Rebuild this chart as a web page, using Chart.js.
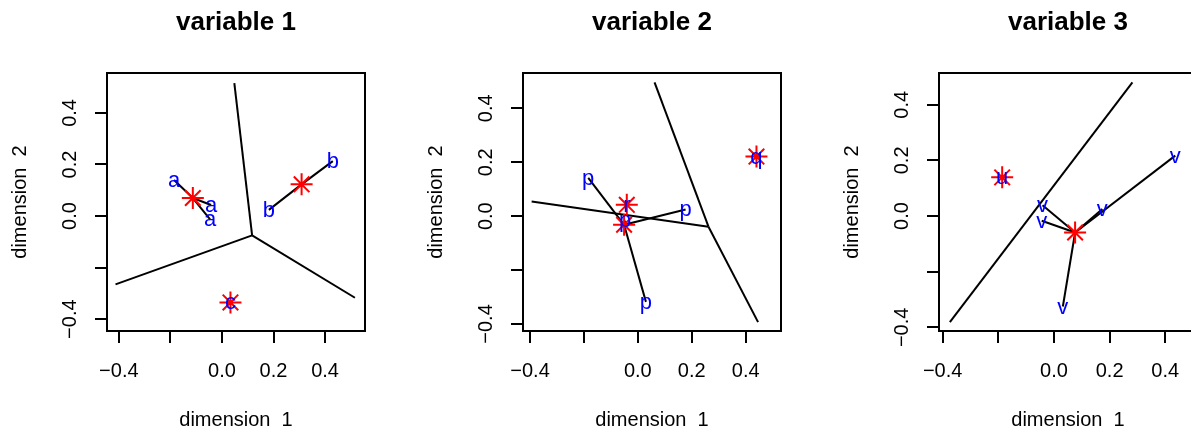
<!DOCTYPE html>
<html>
<head>
<meta charset="utf-8">
<script src="https://cdn.jsdelivr.net/npm/chart.js@4.4.1/dist/chart.umd.min.js"></script>
<style>
  body { margin: 0; background: #fff; overflow: hidden; }
  #wrap { position: relative; width: 1191px; height: 432px; overflow: hidden; background: #fff; }
  #wrap canvas { position: absolute; top: 0; }
</style>
</head>
<body>
<div id="wrap">
  <canvas id="panel1" width="416" height="432" style="left:0px"></canvas>
  <canvas id="panel2" width="416" height="432" style="left:416px"></canvas>
  <canvas id="panel3" width="416" height="432" style="left:832px"></canvas>
</div>
<script>
const tickValues = [-0.4, -0.2, 0, 0.2, 0.4];
const tickText = ['\u22120.4', '', '0.0', '0.2', '0.4'];

// variable 1
const v1Letters = ['a', 'a', 'a', 'b', 'b', 'c'];
const v1X = [-0.186, -0.042, -0.046, 0.182, 0.430, 0.033];
const v1Y = [0.140, 0.043, -0.013, 0.024, 0.213, -0.335];
const v1Centres = ['a', 'b', 'c'];
const v1CentreX = [-0.113, 0.309, 0.033];
const v1CentreY = [0.070, 0.123, -0.335];
const v1EdgeX0 = [0.048, 0.117, 0.117];
const v1EdgeY0 = [0.516, -0.075, -0.075];
const v1EdgeX1 = [0.117, -0.413, 0.516];
const v1EdgeY1 = [-0.075, -0.265, -0.317];

// variable 2
const v2Letters = ['p', 'p', 'p', 'p', 'q', 'r'];
const v2X = [-0.184, -0.047, 0.177, 0.030, 0.440, -0.041];
const v2Y = [0.142, -0.016, 0.025, -0.318, 0.221, 0.042];
const v2Centres = ['p', 'q', 'r'];
const v2CentreX = [-0.051, 0.440, -0.041];
const v2CentreY = [-0.032, 0.221, 0.042];
const v2EdgeX0 = [-0.394, 0.062, 0.262];
const v2EdgeY0 = [0.054, 0.496, -0.039];
const v2EdgeX1 = [0.262, 0.262, 0.446];
const v2EdgeY1 = [-0.039, -0.039, -0.393];

// variable 3
const v3Letters = ['u', 'v', 'v', 'v', 'v', 'v'];
const v3X = [-0.186, -0.041, -0.044, 0.174, 0.436, 0.032];
const v3Y = [0.139, 0.039, -0.017, 0.025, 0.217, -0.325];
const v3Centres = ['u', 'v'];
const v3CentreX = [-0.186, 0.076];
const v3CentreY = [0.139, -0.059];
const v3EdgeX0 = [-0.374];
const v3EdgeY0 = [-0.381];
const v3EdgeX1 = [0.282];
const v3EdgeY1 = [0.480];

const v1Range = [-0.446, 0.555];
const v2Range = [-0.426, 0.531];
const v3Range = [-0.413, 0.514];

const FONT = "'Liberation Sans', Arial, Helvetica, sans-serif";

// box around the plot region, like R's box()
const boxPlugin = {
    id: 'box',
    afterDatasetsDraw(chart) {
        const a = chart.chartArea;
        const ctx = chart.ctx;
        ctx.save();
        ctx.strokeStyle = '#000';
        ctx.lineWidth = 2;
        ctx.strokeRect(a.left, a.top, a.right - a.left, a.bottom - a.top);
        ctx.restore();
    }
};

// text labels drawn at the positions of the letter dataset
const letterPlugin = {
    id: 'letters',
    afterDatasetsDraw(chart) {
        const ctx = chart.ctx;
        chart.data.datasets.forEach((ds, di) => {
            if (!ds.letters) return;
            const meta = chart.getDatasetMeta(di);
            ctx.save();
            ctx.fillStyle = '#0000ff';
            ctx.font = '22px ' + FONT;
            ctx.textAlign = 'center';
            ctx.textBaseline = 'alphabetic';
            meta.data.forEach((pt, i) => {
                ctx.fillText(ds.letters[i], pt.x, pt.y + 7);
            });
            ctx.restore();
        });
    }
};

function segment(x0, y0, x1, y1) {
    return {
        data: [{ x: x0, y: y0 }, { x: x1, y: y1 }],
        showLine: true,
        borderColor: '#000',
        borderWidth: 2,
        pointRadius: 0,
        order: 3
    };
}

function axisOptions(range, titleText, isX) {
    return {
        type: 'linear',
        min: range[0],
        max: range[1],
        bounds: 'data',
        afterBuildTicks: scale => { scale.ticks = tickValues.map(v => ({ value: v })); },
        afterFit: scale => {
            if (isX) scale.height = 101;
            else scale.width = 107;
        },
        grid: {
            display: true,
            drawOnChartArea: false,
            drawTicks: true,
            tickLength: 12,
            tickWidth: 2,
            tickColor: '#000',
            color: '#000',
            lineWidth: 2
        },
        border: { display: false },
        ticks: {
            autoSkip: false,
            color: '#000',
            font: { size: 20, family: FONT },
            padding: isX ? 16 : 5,
            minRotation: isX ? 0 : 90,
            maxRotation: isX ? 0 : 90,
            crossAlign: isX ? 'near' : 'center',
            callback: (value, index) => tickText[index]
        },
        title: {
            display: true,
            text: titleText,
            color: '#000',
            font: { size: 20, family: FONT },
            padding: isX ? { top: 0, bottom: 0 } : { top: 8, bottom: 0 }
        }
    };
}

function buildPanel(id, titleText, range, letters, xs, ys, centres, cx, cy, ex0, ey0, ex1, ey1) {
    const datasets = [];

    ex0.forEach((x0, i) => datasets.push(segment(x0, ey0[i], ex1[i], ey1[i])));

    letters.forEach((l, i) => {
        const j = centres.indexOf(l);
        datasets.push(segment(cx[j], cy[j], xs[i], ys[i]));
    });

    datasets.push({
        data: cx.map((x, i) => ({ x: x, y: cy[i] })),
        pointStyle: 'star',
        pointRadius: 11,
        borderColor: '#ff0000',
        backgroundColor: '#ff0000',
        borderWidth: 2,
        order: 1
    });

    datasets.push({
        data: xs.map((x, i) => ({ x: x, y: ys[i] })),
        letters: letters,
        pointRadius: 0,
        order: 0
    });

    new Chart(document.getElementById(id), {
        type: 'scatter',
        data: { datasets: datasets },
        options: {
            responsive: false,
            animation: false,
            events: [],
            layout: { padding: { left: 0, right: 51, top: 0, bottom: 0 } },
            plugins: {
                legend: { display: false },
                tooltip: { enabled: false },
                title: {
                    display: true,
                    text: titleText,
                    color: '#000',
                    fullSize: false,
                    font: { size: 26, weight: 'bold', family: FONT },
                    padding: { top: 7, bottom: 34.8 }
                }
            },
            scales: {
                x: axisOptions(range, 'dimension  1', true),
                y: axisOptions(range, 'dimension  2', false)
            }
        },
        plugins: [boxPlugin, letterPlugin]
    });
}

buildPanel('panel1', 'variable 1', v1Range, v1Letters, v1X, v1Y, v1Centres, v1CentreX, v1CentreY,
    v1EdgeX0, v1EdgeY0, v1EdgeX1, v1EdgeY1);
buildPanel('panel2', 'variable 2', v2Range, v2Letters, v2X, v2Y, v2Centres, v2CentreX, v2CentreY,
    v2EdgeX0, v2EdgeY0, v2EdgeX1, v2EdgeY1);
buildPanel('panel3', 'variable 3', v3Range, v3Letters, v3X, v3Y, v3Centres, v3CentreX, v3CentreY,
    v3EdgeX0, v3EdgeY0, v3EdgeX1, v3EdgeY1);
</script>
</body>
</html>
